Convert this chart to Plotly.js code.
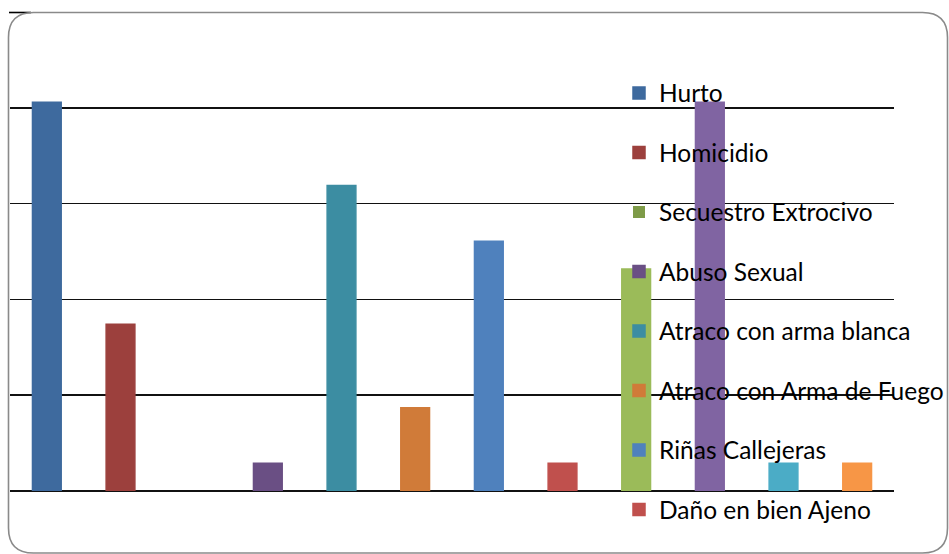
<!DOCTYPE html>
<html>
<head>
<meta charset="utf-8">
<script src="https://cdn.plot.ly/plotly-3.0.1.min.js"></script>
<style>
  html, body { margin: 0; padding: 0; background: #fff; }
  #chart { width: 949px; height: 554px; }
</style>
</head>
<body>
<div id="chart"></div>
<script>
// ---- data (percentages) ----
const categories = [
  "Hurto", "Homicidio", "Secuestro Extrocivo", "Abuso Sexual",
  "Atraco con arma blanca", "Atraco con Arma de Fuego", "Riñas Callejeras",
  "Daño en bien Ajeno", "Categoría 9", "Categoría 10", "Categoría 11", "Categoría 12"
];
const values = [20.29, 8.70, 0, 1.45, 15.94, 4.35, 13.04, 1.45, 11.59, 20.29, 1.45, 1.45];
const colors = [
  "#3E6A9E", "#9C403D", "#7E9B48", "#6A4F84", "#3C8DA2", "#D07B39",
  "#4F81BD", "#C0504D", "#9BBB59", "#8064A2", "#4BACC6", "#F79646"
];
const legendShown = [true, true, true, true, true, true, true, true, false, false, false, false];
const gridTicks = [0, 5, 10, 15, 20];

// ---- layout geometry (pixels) ----
const W = 949, H = 554;
const M = { l: 10, r: 55, t: 12, b: 63 };
const PW = W - M.l - M.r, PH = H - M.t - M.b;
const px2x = px => (px - M.l) / PW;
const px2y = py => (H - M.b - py) / PH;

const traces = categories.map((c, i) => ({
  type: "bar",
  name: c,
  x: [c],
  y: [values[i]],
  width: 0.39,
  marker: { color: colors[i], line: { width: values[i] > 0 ? 1.5 : 0, color: colors[i] } },
  legendgroup: c,
  showlegend: legendShown[i],
  hoverinfo: "x+y"
}));

function pathStr(x0, y0, x1, y1, r) {
  const X = px2x, Y = px2y;
  const p = (a, b) => X(a).toFixed(5) + "," + Y(b).toFixed(5);
  return "M" + p(x0 + r, y0) +
    " L" + p(x1 - r, y0) +
    " Q" + p(x1, y0) + " " + p(x1, y0 + r) +
    " L" + p(x1, y1 - r) +
    " Q" + p(x1, y1) + " " + p(x1 - r, y1) +
    " L" + p(x0 + r, y1) +
    " Q" + p(x0, y1) + " " + p(x0, y1 - r) +
    " L" + p(x0, y0 + r) +
    " Q" + p(x0, y0) + " " + p(x0 + r, y0) + " Z";
}

const legendFont = { family: "Lato, 'Liberation Sans', sans-serif", size: 24.5, color: "#000" };

const layout = {
  width: W, height: H,
  margin: { l: M.l, r: M.r, t: M.t, b: M.b, autoexpand: false },
  paper_bgcolor: "#ffffff",
  plot_bgcolor: "rgba(0,0,0,0)",
  barmode: "overlay",
  font: { family: "Lato, 'Liberation Sans', sans-serif", color: "#000" },
  xaxis: {
    type: "category",
    categoryorder: "array",
    categoryarray: categories,
    showticklabels: false,
    ticks: "",
    showgrid: false,
    zeroline: false,
    showline: false,
    fixedrange: true
  },
  yaxis: {
    range: [0, 25],
    tickmode: "array",
    tickvals: gridTicks,
    showticklabels: false,
    ticks: "",
    showgrid: true,
    gridcolor: "#111",
    gridwidth: 1.7,
    zeroline: true,
    zerolinecolor: "#111",
    zerolinewidth: 1.7,
    showline: false,
    fixedrange: true
  },
  showlegend: true,
  legend: {
    x: px2x(619), xanchor: "left",
    y: px2y(70.5), yanchor: "top",
    bgcolor: "rgba(0,0,0,0)",
    borderwidth: 0,
    traceorder: "grouped",
    tracegroupgap: 24.65,
    font: legendFont
  },
  shapes: [
    {
      type: "path", xref: "paper", yref: "paper",
      path: pathStr(8.5, 12.5, 947.5, 553, 25),
      line: { color: "#8a8a8a", width: 1.6 },
      fillcolor: "rgba(0,0,0,0)",
      layer: "above"
    },
    {
      type: "line", xref: "paper", yref: "paper",
      x0: px2x(9), x1: px2x(31), y0: px2y(12.5), y1: px2y(12.5),
      line: { color: "#000", width: 1.6 },
      layer: "below"
    }
  ]
};

Plotly.newPlot("chart", traces, layout, { displayModeBar: false, staticPlot: true });
</script>
</body>
</html>
